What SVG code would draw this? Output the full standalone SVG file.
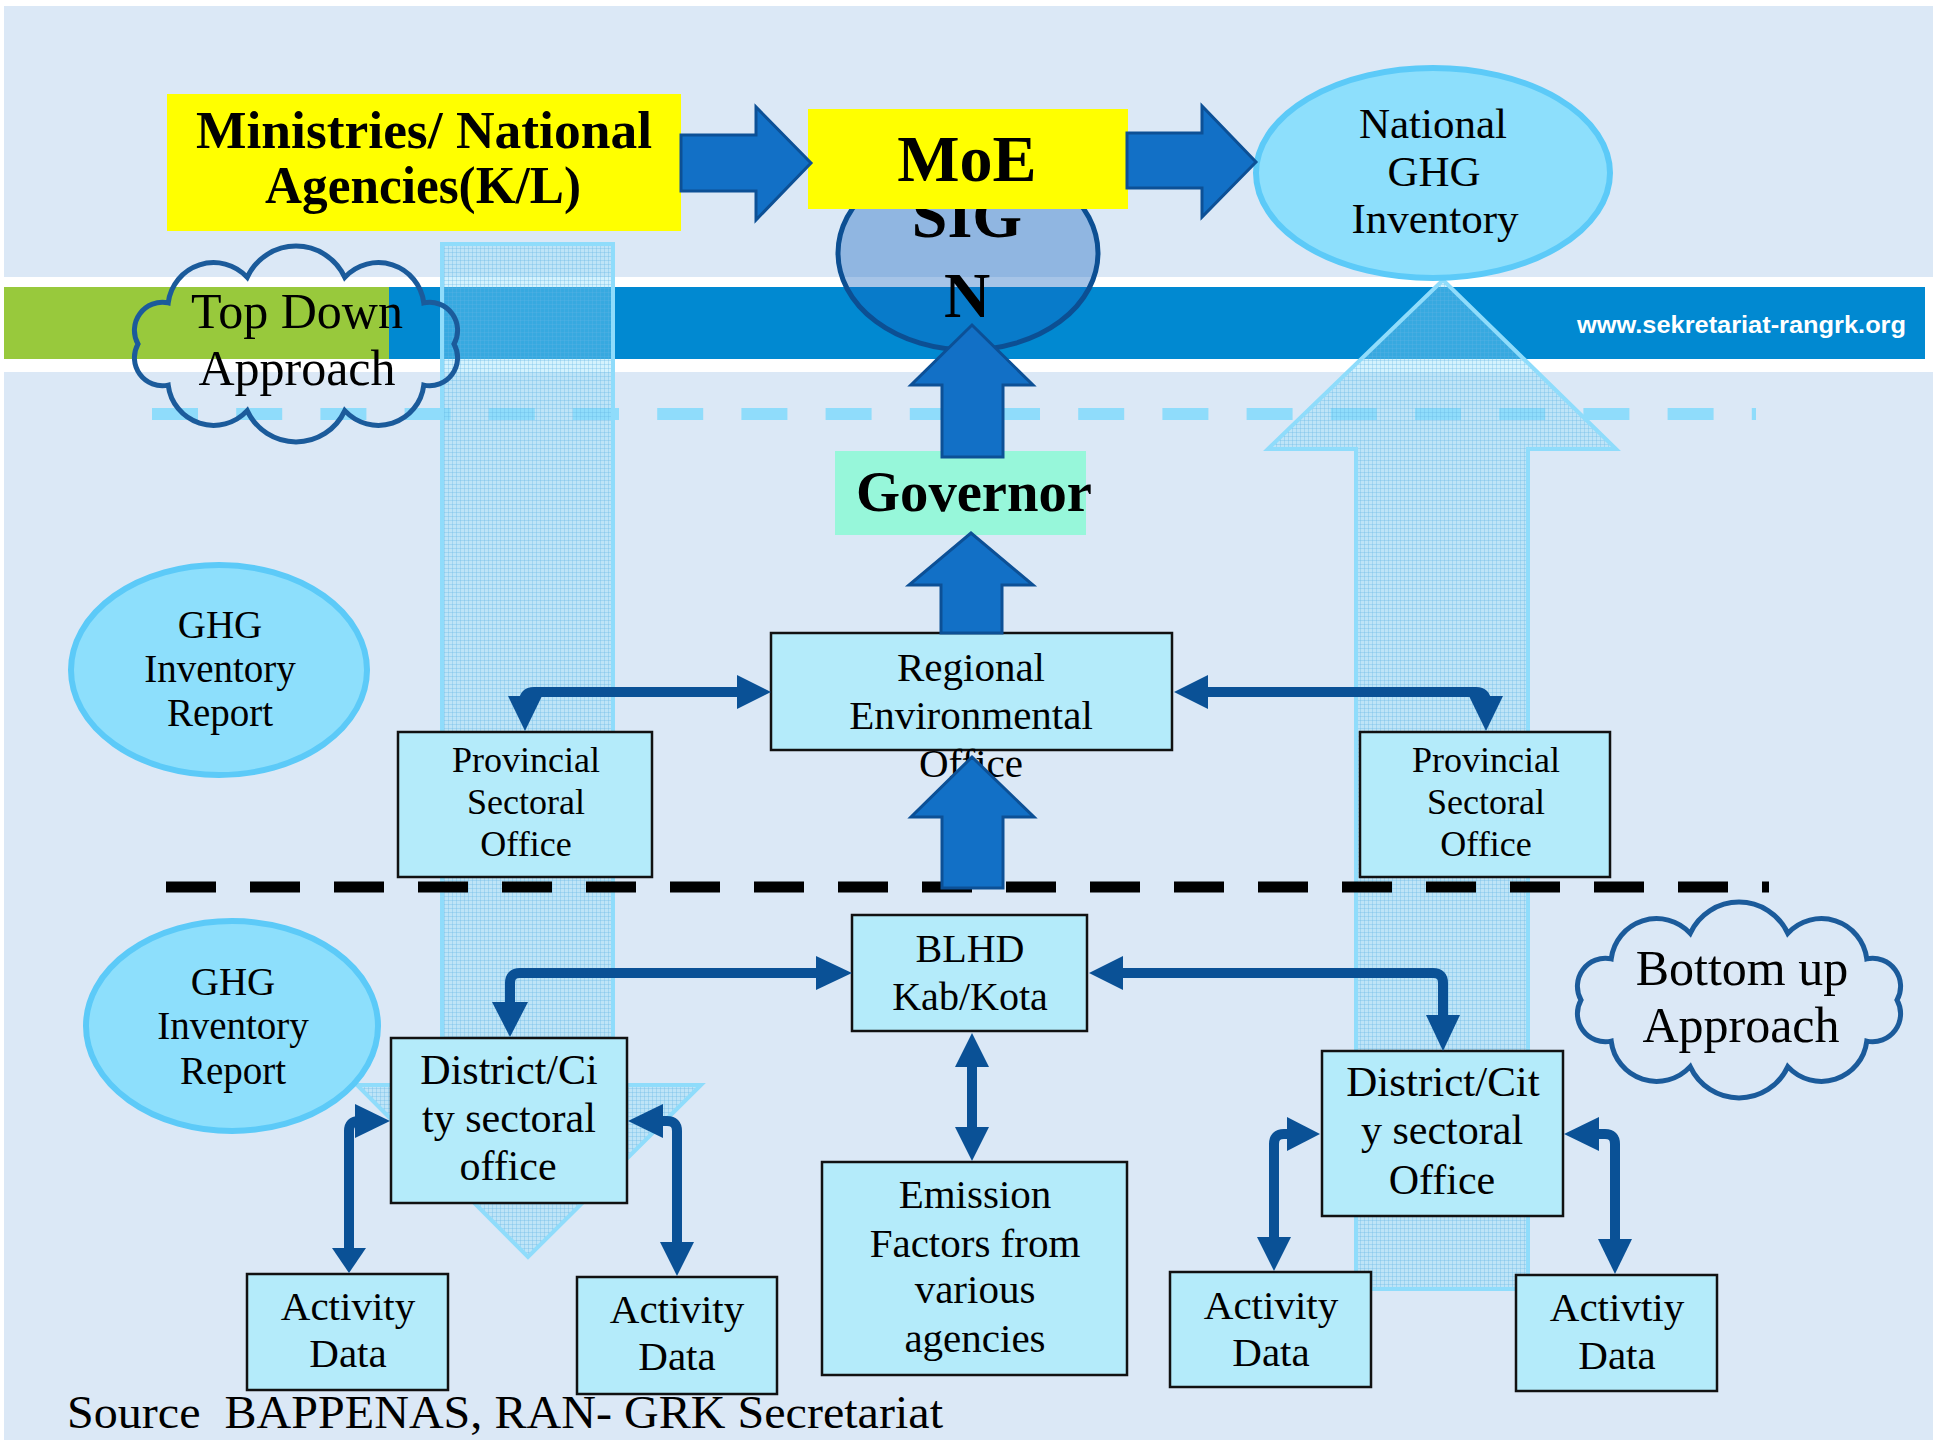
<svg xmlns="http://www.w3.org/2000/svg" width="1933" height="1440" viewBox="0 0 1933 1440">
<defs>
<style>
.t{font-family:'Liberation Serif','Times New Roman',serif;fill:#000;text-anchor:middle}
.b{font-weight:bold}
.box{fill:#b4ebfa;stroke:#111;stroke-width:2.5}
.blk{fill:#1270c6;stroke:#0c5096;stroke-width:3;stroke-linejoin:miter}
.con{fill:none;stroke:#0a5196;stroke-width:10}
.hd{fill:#0a5196}
.ell{fill:#8ddffc;stroke:#5ccaf8;stroke-width:6}
.cloud{fill:none;stroke:#1b5b9b;stroke-width:5}
.band{fill:url(#grid);stroke:#8fdcfb;stroke-width:4}
</style>
<pattern id="grid" width="4" height="4" patternUnits="userSpaceOnUse">
<rect width="4" height="4" fill="#8fdcfb" fill-opacity="0.38"/>
<path d="M0 0.5H4M0.5 0V4" stroke="#5fb3e6" stroke-opacity="0.3" stroke-width="1"/>
</pattern>
<path id="cloudShape" d="M -48.8,-66.6 A 53.7 53.7 0 0 1 48.8,-66.6 A 45.7 45.7 0 0 1 127.8,-41.1 A 28 28 0 0 1 158,0 A 28 28 0 0 1 127.8,41.1 A 45.7 45.7 0 0 1 48.8,66.6 A 53.7 53.7 0 0 1 -48.8,66.6 A 45.7 45.7 0 0 1 -127.8,41.1 A 28 28 0 0 1 -158,0 A 28 28 0 0 1 -127.8,-41.1 A 45.7 45.7 0 0 1 -48.8,-66.6 Z"/>
</defs>

<!-- background -->
<rect x="0" y="0" width="1933" height="1440" fill="#ffffff"/>
<rect x="4" y="6" width="1929" height="1434" fill="#dbe8f6"/>
<rect x="4" y="277" width="1929" height="95" fill="#ffffff"/>
<rect x="4" y="287" width="385" height="72" fill="#98c93c"/>
<rect x="389" y="287" width="1536" height="72" fill="#0189d1"/>
<text x="1741.5" y="333" font-family="'Liberation Sans',Arial,sans-serif" font-weight="bold" font-size="24" fill="#ffffff" text-anchor="middle" textLength="329" lengthAdjust="spacingAndGlyphs">www.sekretariat-rangrk.org</text>

<!-- dividers -->
<line x1="152" y1="414" x2="1756" y2="414" stroke="#8fdcfb" stroke-width="12" stroke-dasharray="46 38.2"/>

<!-- translucent approach arrows -->
<g id="topdown-arrow">
<polygon class="band" points="442,244 613,244 613,1085 701,1085 528,1257 357,1085 442,1085"/>
</g>
<g id="bottomup-arrow">
<polygon class="band" points="1356,1289 1356,449 1268,449 1443,280 1616,449 1528,449 1528,1289"/>
</g>

<!-- clouds -->
<g id="topdown-cloud">
<use href="#cloudShape" class="cloud" transform="translate(296,344)"/>
<text class="t" x="297" y="328" font-size="50">Top Down</text>
<text class="t" x="297" y="385" font-size="50">Approach</text>
</g>
<g id="bottomup-cloud">
<use href="#cloudShape" class="cloud" transform="translate(1739,1000)"/>
<text class="t" x="1742" y="985" font-size="50">Bottom up</text>
<text class="t" x="1741" y="1042" font-size="50">Approach</text>
</g>

<!-- SIGN -->
<g id="sign">
<ellipse cx="968" cy="253" rx="130" ry="97" fill="#1565c0" fill-opacity="0.38" stroke="#0c4f93" stroke-width="5"/>
<text class="t b" x="967" y="237" font-size="64">SIG</text>
<text class="t b" x="967" y="317" font-size="64">N</text>
</g>

<!-- Ministries -->
<g id="ministries">
<rect x="167" y="94" width="514" height="137" fill="#ffff00"/>
<text class="t b" x="424" y="148" font-size="52" textLength="456" lengthAdjust="spacingAndGlyphs">Ministries/ National</text>
<text class="t b" x="423" y="203" font-size="52" textLength="316" lengthAdjust="spacingAndGlyphs">Agencies(K/L)</text>
</g>

<!-- MoE -->
<g id="moe">
<rect x="808" y="109" width="320" height="100" fill="#ffff00"/>
<text class="t b" x="967" y="181" font-size="66">MoE</text>
</g>

<!-- National GHG Inventory -->
<g id="national">
<ellipse class="ell" cx="1433" cy="173" rx="177" ry="105"/>
<text class="t" x="1433" y="138" font-size="43">National</text>
<text class="t" x="1434" y="186" font-size="43">GHG</text>
<text class="t" x="1435" y="233" font-size="43">Inventory</text>
</g>

<!-- Governor -->
<g id="governor">
<rect x="835" y="451" width="251" height="84" fill="#97f7da"/>
<text class="t b" x="974" y="511" font-size="56" textLength="236" lengthAdjust="spacingAndGlyphs">Governor</text>
</g>

<!-- black divider -->
<line x1="166" y1="887" x2="1769" y2="887" stroke="#000" stroke-width="11" stroke-dasharray="50 34"/>

<!-- Regional -->
<g id="regional">
<rect class="box" x="771" y="633" width="401" height="117"/>
<text class="t" x="971" y="681" font-size="41">Regional</text>
<text class="t" x="971" y="729" font-size="41">Environmental</text>
<text class="t" x="971" y="777" font-size="41">Office</text>
</g>

<g id="prov-left">
<rect class="box" x="398" y="732" width="254" height="145"/>
<text class="t" x="526" y="772" font-size="36">Provincial</text>
<text class="t" x="526" y="814" font-size="36">Sectoral</text>
<text class="t" x="526" y="856" font-size="36">Office</text>
</g>
<g id="prov-right">
<rect class="box" x="1360" y="732" width="250" height="145"/>
<text class="t" x="1486" y="772" font-size="36">Provincial</text>
<text class="t" x="1486" y="814" font-size="36">Sectoral</text>
<text class="t" x="1486" y="856" font-size="36">Office</text>
</g>

<g id="ghg-report-1">
<ellipse class="ell" cx="219" cy="670" rx="148" ry="105" stroke-width="5"/>
<text class="t" x="220" y="638" font-size="39">GHG</text>
<text class="t" x="220" y="682" font-size="39">Inventory</text>
<text class="t" x="220" y="726" font-size="39">Report</text>
</g>
<g id="ghg-report-2">
<ellipse class="ell" cx="232" cy="1026" rx="146" ry="105" stroke-width="5"/>
<text class="t" x="233" y="995" font-size="39">GHG</text>
<text class="t" x="233" y="1039" font-size="39">Inventory</text>
<text class="t" x="233" y="1084" font-size="39">Report</text>
</g>

<g id="blhd">
<rect class="box" x="852" y="915" width="235" height="116"/>
<text class="t" x="970" y="962" font-size="40">BLHD</text>
<text class="t" x="970" y="1010" font-size="40">Kab/Kota</text>
</g>

<g id="emission">
<rect class="box" x="822" y="1162" width="305" height="213"/>
<text class="t" x="975" y="1208" font-size="41">Emission</text>
<text class="t" x="975" y="1257" font-size="41">Factors from</text>
<text class="t" x="975" y="1303" font-size="41">various</text>
<text class="t" x="975" y="1352" font-size="41">agencies</text>
</g>

<g id="district-left">
<rect class="box" x="391" y="1038" width="236" height="165"/>
<text class="t" x="509" y="1084" font-size="42">District/Ci</text>
<text class="t" x="509" y="1132" font-size="42">ty sectoral</text>
<text class="t" x="508" y="1180" font-size="42">office</text>
</g>
<g id="district-right">
<rect class="box" x="1322" y="1051" width="241" height="165"/>
<text class="t" x="1443" y="1096" font-size="43">District/Cit</text>
<text class="t" x="1442" y="1144" font-size="42">y sectoral</text>
<text class="t" x="1442" y="1194" font-size="42">Office</text>
</g>

<g id="activity-l1">
<rect class="box" x="247" y="1274" width="201" height="116"/>
<text class="t" x="348" y="1320" font-size="41">Activity</text>
<text class="t" x="348" y="1367" font-size="41">Data</text>
</g>
<g id="activity-l2">
<rect class="box" x="577" y="1277" width="200" height="117"/>
<text class="t" x="677" y="1323" font-size="41">Activity</text>
<text class="t" x="677" y="1370" font-size="41">Data</text>
</g>
<g id="activity-r1">
<rect class="box" x="1170" y="1272" width="201" height="115"/>
<text class="t" x="1271" y="1319" font-size="41">Activity</text>
<text class="t" x="1271" y="1366" font-size="41">Data</text>
</g>
<g id="activity-r2">
<rect class="box" x="1516" y="1275" width="201" height="116"/>
<text class="t" x="1617" y="1321" font-size="41">Activtiy</text>
<text class="t" x="1617" y="1369" font-size="41">Data</text>
</g>

<!-- connectors -->
<g id="connectors">
<polygon class="blk" points="681,135 756,135 756,107 811,163 756,220 756,191 681,191"/>
<polygon class="blk" points="1127,133 1202,133 1202,106 1256,162 1202,217 1202,188 1127,188"/>
<polygon class="blk" points="942,457 942,385 911,385 972,325 1033,385 1003,385 1003,457"/>
<polygon class="blk" points="941,633 941,585 909,585 971,533 1033,585 1002,585 1002,633"/>
<polygon class="blk" points="942,888 942,817 911,817 972,757 1034,817 1003,817 1003,888"/>

<path class="con" d="M740 692 H534 Q524 692 524 702 V704"/>
<polygon class="hd" points="737,675 771,692 737,709"/>
<polygon class="hd" points="508,696 542,696 525,731"/>

<path class="con" d="M1205 692 H1476 Q1486 692 1486 702 V704"/>
<polygon class="hd" points="1208,675 1174,692 1208,709"/>
<polygon class="hd" points="1469,696 1503,696 1486,731"/>

<path class="con" d="M820 973 H520 Q510 973 510 983 V1006"/>
<polygon class="hd" points="816,956 852,973 816,990"/>
<polygon class="hd" points="492,1002 528,1002 510,1037"/>

<path class="con" d="M1120 973 H1433 Q1443 973 1443 983 V1018"/>
<polygon class="hd" points="1123,956 1089,973 1123,990"/>
<polygon class="hd" points="1426,1015 1460,1015 1443,1051"/>

<path class="con" d="M972 1060 V1130"/>
<polygon class="hd" points="955,1067 972,1033 989,1067"/>
<polygon class="hd" points="955,1127 989,1127 972,1161"/>

<path class="con" d="M349 1252 V1131 Q349 1121 359 1121"/>
<polygon class="hd" points="355,1104 390,1121 355,1138"/>
<polygon class="hd" points="332,1248 366,1248 349,1273"/>

<path class="con" d="M660 1121 H667 Q677 1121 677 1131 V1246"/>
<polygon class="hd" points="663,1104 628,1121 663,1138"/>
<polygon class="hd" points="660,1242 694,1242 677,1276"/>

<path class="con" d="M1290 1134 H1284 Q1274 1134 1274 1144 V1240"/>
<polygon class="hd" points="1287,1117 1320,1134 1287,1151"/>
<polygon class="hd" points="1257,1237 1291,1237 1274,1271"/>

<path class="con" d="M1596 1134 H1605 Q1615 1134 1615 1144 V1242"/>
<polygon class="hd" points="1599,1117 1564,1134 1599,1151"/>
<polygon class="hd" points="1598,1239 1632,1239 1615,1274"/>
</g>

<text x="67" y="1428" font-family="'Liberation Serif','Times New Roman',serif" font-size="47" fill="#000" xml:space="preserve" textLength="876" lengthAdjust="spacingAndGlyphs">Source  BAPPENAS, RAN- GRK Secretariat</text>
</svg>
